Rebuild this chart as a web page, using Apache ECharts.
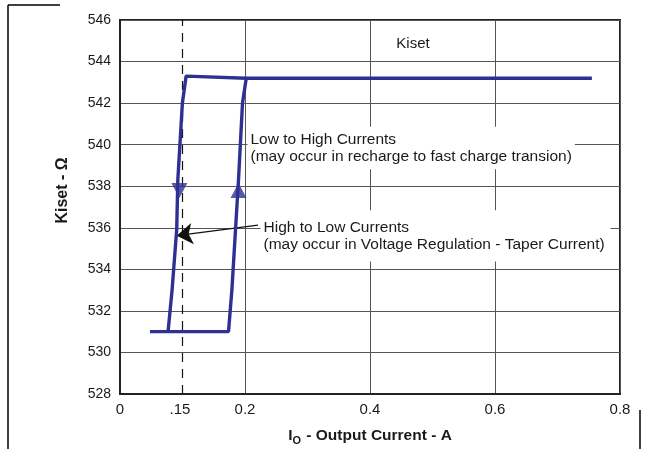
<!DOCTYPE html>
<html><head><meta charset="utf-8">
<script src="https://cdn.jsdelivr.net/npm/echarts@6/dist/echarts.min.js"></script>
<style>html,body{margin:0;padding:0;background:#fff}#c{width:671px;height:449px}</style>
</head><body><div id="c"></div>
<script>
const FONT = '"Liberation Sans", Arial, Helvetica, sans-serif';

// Low-to-high branch: bottom plateau, rising edge, top plateau
const lowToHighX = [0.048, 0.1736, 0.179, 0.1896, 0.196, 0.202, 0.30, 0.755];
const lowToHighY = [531.0, 531.0, 533.0, 538.3, 542.0, 543.2, 543.2, 543.2];
// High-to-low branch: top corner, falling edge down to bottom
const highToLowX = [0.202, 0.1058, 0.0998, 0.0925, 0.0907, 0.0833, 0.0769];
const highToLowY = [543.2, 543.3, 542.0, 538.3, 535.9, 533.0, 531.0];

const arrowDownPt = [0.095, 537.8];
const arrowUpPt = [0.1896, 537.8];

const markerX = 0.096;            // dashed marker labelled ".15"
const xTickValues = [0, 0.096, 0.2, 0.4, 0.6, 0.8];
const xTickLabels = ['0', '.15', '0.2', '0.4', '0.6', '0.8'];

const lowHighText = ['Low to High Currents', '(may occur in recharge to fast charge transion)'];
const lowHighAt = [0.2032, 539.84];
const highLowText = ['High to Low Currents', '(may occur in Voltage Regulation - Taper Current)'];
const highLowAt = [0.224, 535.61];
const pointerFrom = [0.2208, 536.13];
const pointerTo = [0.0907, 535.62];
const titleText = 'Kiset';
const titleAt = [0.4688, 544.83];

const pairs = (xs, ys) => xs.map((x, i) => [x, ys[i]]);
const BLUE = '#2E3192';
const INK = '#1a1a1a';

const chart = echarts.init(document.getElementById('c'), null, {renderer: 'canvas'});
chart.setOption({
  animation: false,
  backgroundColor: '#fff',
  grid: {left: 120, right: 51, top: 20, bottom: 55, show: true, borderColor: '#222', borderWidth: 2,
    backgroundColor: 'transparent', containLabel: false, outerBoundsMode: 'none'},
  xAxis: {
    type: 'value', min: 0, max: 0.8, interval: 0.2,
    name: '{i|I}{o|O}{t| - Output Current - A}',
    nameLocation: 'middle', nameGap: 34,
    nameTextStyle: {
      fontFamily: FONT,
      rich: {
        i: {fontFamily: FONT, fontSize: 15.5, fontWeight: 'bold', color: INK, lineHeight: 18, verticalAlign: 'top'},
        o: {fontFamily: FONT, fontSize: 11, fontWeight: 'bold', color: INK, lineHeight: 13, padding: [7, 1, 0, 0], verticalAlign: 'top'},
        t: {fontFamily: FONT, fontSize: 15.5, fontWeight: 'bold', color: INK, lineHeight: 18, verticalAlign: 'top'}
      }
    },
    axisLine: {show: true, lineStyle: {color: '#222', width: 2}},
    axisTick: {show: false},
    splitLine: {show: true, lineStyle: {color: '#555', width: 1}},
    axisLabel: {
      customValues: xTickValues,
      formatter: v => { const k = xTickValues.findIndex(t => Math.abs(t - v) < 1e-6); return k >= 0 ? xTickLabels[k] : ''; },
      fontFamily: FONT, fontSize: 15, color: INK, margin: 8
    }
  },
  yAxis: {
    type: 'value', min: 528, max: 546, interval: 2,
    name: 'Kiset - Ω', nameLocation: 'middle', nameGap: 49,
    nameTextStyle: {fontFamily: FONT, fontSize: 16, fontWeight: 'bold', color: INK, padding: [0, 0, 0, 33]},
    axisLine: {show: true, lineStyle: {color: '#222', width: 2}},
    axisTick: {show: false},
    splitLine: {show: true, lineStyle: {color: '#555', width: 1}},
    axisLabel: {fontFamily: FONT, fontSize: 14, color: INK, margin: 9}
  },
  series: [
    {
      type: 'line', name: 'Low to High', data: pairs(lowToHighX, lowToHighY),
      symbol: 'none', lineStyle: {color: BLUE, width: 3.4}, z: 5, silent: true,
      markLine: {
        silent: true, symbol: ['none', 'none'], label: {show: false},
        lineStyle: {color: '#111', width: 1.2, type: [9, 7]},
        data: [{xAxis: markerX}]
      },
      markPoint: {
        silent: true, symbol: 'circle', symbolSize: 1, itemStyle: {color: 'rgba(0,0,0,0)'},
        data: [
          {coord: lowHighAt, label: {show: true, position: 'right', distance: 0, formatter: lowHighText.join('\n'),
            fontFamily: FONT, fontSize: 15.5, lineHeight: 16.7, color: INK, backgroundColor: '#fff', padding: [5, 3, 4, 3], align: 'left'}},
          {coord: highLowAt, label: {show: true, position: 'right', distance: 0, formatter: highLowText.join('\n'),
            fontFamily: FONT, fontSize: 15.5, lineHeight: 16.7, color: INK, backgroundColor: '#fff', padding: [5, 6, 13, 3], align: 'left'}},
          {coord: titleAt, label: {show: true, position: 'inside', formatter: titleText,
            fontFamily: FONT, fontSize: 15, color: INK}}
        ]
      }
    },
    {
      type: 'line', name: 'High to Low', data: pairs(highToLowX, highToLowY),
      symbol: 'none', lineStyle: {color: BLUE, width: 3.4}, z: 5, silent: true,
      markLine: {
        silent: true, symbol: ['none', 'arrow'], symbolSize: 16, label: {show: false},
        lineStyle: {color: '#111', width: 1.2, type: 'solid'},
        data: [[{coord: pointerFrom}, {coord: pointerTo}]]
      }
    },
    {
      type: 'scatter', data: [arrowDownPt], symbol: 'triangle', symbolSize: [16, 15], symbolRotate: 180,
      itemStyle: {color: BLUE}, z: 6, silent: true
    },
    {
      type: 'scatter', data: [arrowUpPt], symbol: 'triangle', symbolSize: [16, 15],
      itemStyle: {color: BLUE}, z: 6, silent: true
    }
  ],
  graphic: [
    {type: 'line', shape: {x1: 8, y1: 5, x2: 8, y2: 449}, style: {stroke: '#000', lineWidth: 1.5}, silent: true},
    {type: 'line', shape: {x1: 8, y1: 5, x2: 60, y2: 5}, style: {stroke: '#000', lineWidth: 1.5}, silent: true},
    {type: 'line', shape: {x1: 640, y1: 410, x2: 640, y2: 449}, style: {stroke: '#000', lineWidth: 1.5}, silent: true}
  ]
});
</script>
</body></html>
